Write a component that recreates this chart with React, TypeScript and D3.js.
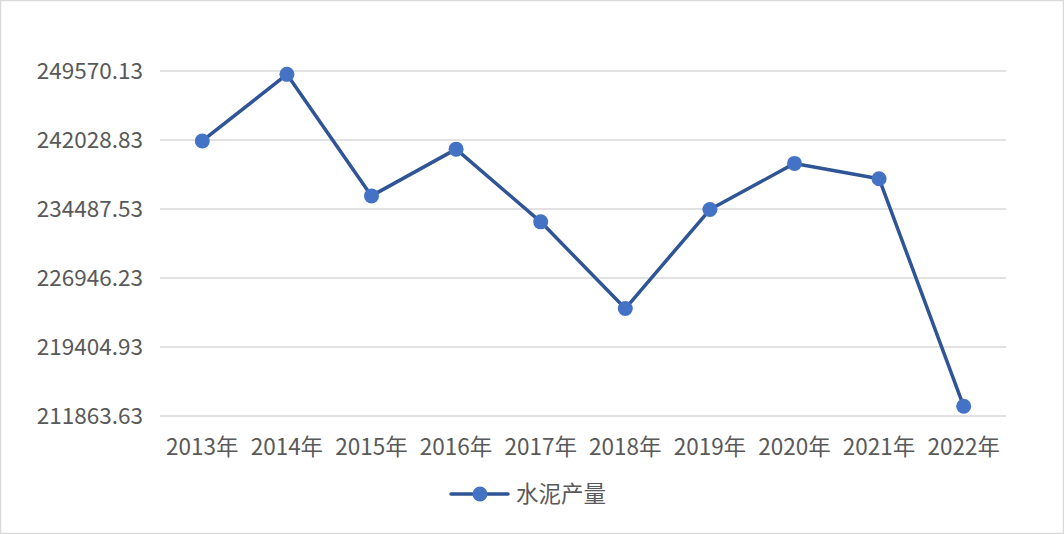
import React from "react";
import * as d3 from "d3";

const categories = ["2013年", "2014年", "2015年", "2016年", "2017年", "2018年", "2019年", "2020年", "2021年", "2022年"];
const cementOutput = [241923.88, 249207.08, 235918.83, 241030.98, 233084.06, 223609.6, 234430.6, 239470.8, 237800.0, 212927.4];
const yTicks = [211863.63, 219404.93, 226946.23, 234487.53, 242028.83, 249570.13];
const seriesName = "水泥产量";

const W = 1064;
const H = 534;
const FONT = "'Noto Sans CJK SC', 'Noto Sans', sans-serif";
const FS = 22.5;

export default function App() {
  const x = d3.scaleBand<string>().domain(categories).range([160, 1006]);
  const y = d3.scaleLinear().domain([211863.63, 249570.13]).range([416, 71]);
  const line = d3
    .line<number>()
    .x((_, i) => (x(categories[i]) as number) + x.bandwidth() / 2)
    .y((d) => y(d));

  return (
    <svg
      width={W}
      height={H}
      style={{ position: "absolute", left: 0, top: 0, background: "#fff" }}
      fontFamily={FONT}
    >
      <rect x={0.5} y={0.5} width={W - 1} height={H - 1} fill="#fff" stroke="#d9d9d9" strokeWidth={1.5} />
      {yTicks.map((t) => (
        <g key={t}>
          <line x1={160} x2={1006} y1={y(t)} y2={y(t)} stroke="#d9d9d9" strokeWidth={1.5} />
          <text x={143} y={y(t)} dy="0.35em" textAnchor="end" fontSize={FS} fill="#595959">
            {t.toFixed(2)}
          </text>
        </g>
      ))}
      {categories.map((c) => (
        <text
          key={c}
          x={(x(c) as number) + x.bandwidth() / 2}
          y={447}
          dy="0.35em"
          textAnchor="middle"
          fontSize={FS}
          fill="#595959"
        >
          {c}
        </text>
      ))}
      <path d={line(cementOutput) || ""} fill="none" stroke="#2f5597" strokeWidth={3.5} strokeLinejoin="round" />
      {cementOutput.map((v, i) => (
        <circle
          key={i}
          cx={(x(categories[i]) as number) + x.bandwidth() / 2}
          cy={y(v)}
          r={7.5}
          fill="#4472c4"
        />
      ))}
      <g>
        <line x1={451} x2={508} y1={494} y2={494} stroke="#2f5597" strokeWidth={3.5} strokeLinecap="round" />
        <circle cx={480} cy={494} r={7.5} fill="#4472c4" />
        <text x={516} y={494} dy="0.35em" fontSize={FS} fill="#595959">
          {seriesName}
        </text>
      </g>
    </svg>
  );
}
